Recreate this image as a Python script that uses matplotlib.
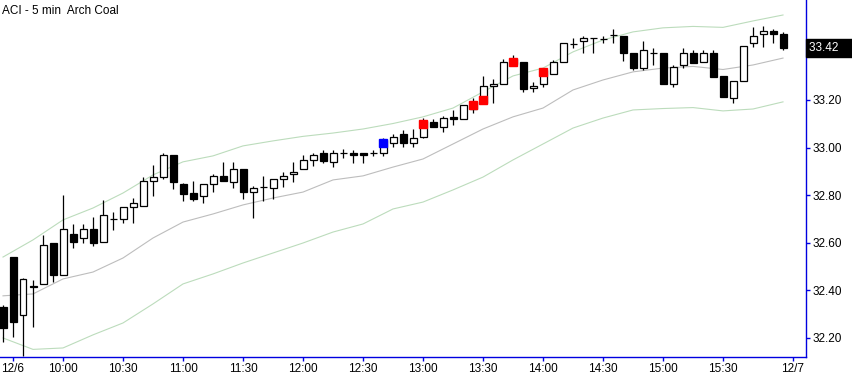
import numpy as np
import matplotlib
matplotlib.use("Agg")
import matplotlib.pyplot as plt

# 5 minute bars, 12/6 session
opens = [32.33, 32.54, 32.295, 32.418, 32.425, 32.60, 32.466, 32.637, 32.619, 32.658,
         32.605, 32.70, 32.699, 32.749, 32.756, 32.86, 32.878, 32.969, 32.847, 32.809,
         32.798, 32.846, 32.881, 32.857, 32.91, 32.815, 32.836, 32.829, 32.867, 32.888,
         32.909, 32.948, 32.979, 32.938, 32.976, 32.979, 32.977, 32.976, 32.976, 33.018,
         33.057, 33.018, 33.046, 33.106, 33.088, 33.128, 33.119, 33.162, 33.187, 33.259,
         33.266, 33.35, 33.358, 33.249, 33.266, 33.308, 33.358, 33.435, 33.448, 33.459,
         33.455, 33.473, 33.47, 33.399, 33.336, 33.396, 33.399, 33.266, 33.347, 33.396,
         33.359, 33.396, 33.301, 33.207, 33.28, 33.438, 33.477, 33.49, 33.477]
highs = [32.34, 32.54, 32.45, 32.445, 32.633, 32.60, 32.80, 32.679, 32.679, 32.707,
         32.78, 32.728, 32.75, 32.787, 32.878, 32.927, 32.979, 32.97, 32.85, 32.861,
         32.846, 32.889, 32.94, 32.94, 32.91, 32.839, 32.881, 32.867, 32.896, 32.938,
         32.969, 32.979, 32.99, 32.99, 32.993, 32.99, 32.977, 32.99, 33.039, 33.057,
         33.074, 33.077, 33.126, 33.119, 33.134, 33.158, 33.179, 33.207, 33.30, 33.287,
         33.371, 33.39, 33.358, 33.277, 33.336, 33.368, 33.44, 33.459, 33.469, 33.459,
         33.469, 33.497, 33.47, 33.399, 33.448, 33.42, 33.399, 33.347, 33.417, 33.41,
         33.41, 33.41, 33.301, 33.28, 33.427, 33.508, 33.511, 33.497, 33.487]
lows = [32.185, 32.205, 32.125, 32.245, 32.425, 32.437, 32.466, 32.577, 32.598, 32.588,
        32.605, 32.654, 32.684, 32.684, 32.756, 32.798, 32.867, 32.827, 32.776, 32.777,
        32.766, 32.815, 32.858, 32.829, 32.784, 32.705, 32.776, 32.784, 32.836, 32.857,
        32.909, 32.924, 32.937, 32.917, 32.958, 32.937, 32.937, 32.966, 32.966, 33.004,
        33.004, 33.004, 33.039, 33.088, 33.067, 33.096, 33.119, 33.147, 33.186, 33.186,
        33.266, 33.345, 33.235, 33.235, 33.256, 33.308, 33.358, 33.417, 33.396, 33.396,
        33.438, 33.438, 33.365, 33.326, 33.326, 33.345, 33.266, 33.256, 33.336, 33.357,
        33.359, 33.298, 33.214, 33.186, 33.28, 33.424, 33.424, 33.438, 33.41]
closes = [32.24, 32.265, 32.447, 32.415, 32.59, 32.466, 32.657, 32.605, 32.657, 32.598,
          32.717, 32.70, 32.749, 32.766, 32.86, 32.878, 32.969, 32.857, 32.806, 32.784,
          32.846, 32.881, 32.858, 32.909, 32.815, 32.829, 32.836, 32.867, 32.881, 32.896,
          32.948, 32.969, 32.945, 32.976, 32.976, 32.969, 32.968, 32.976, 33.032, 33.046,
          33.018, 33.039, 33.112, 33.088, 33.126, 33.119, 33.179, 33.19, 33.259, 33.267,
          33.361, 33.37, 33.246, 33.259, 33.326, 33.358, 33.438, 33.435, 33.459, 33.459,
          33.455, 33.473, 33.396, 33.336, 33.41, 33.396, 33.266, 33.337, 33.396, 33.357,
          33.396, 33.298, 33.214, 33.28, 33.427, 33.469, 33.49, 33.476, 33.42]

# channel lines, sampled every third bar
band_idx = [0, 3, 6, 9, 12, 15, 18, 21, 24, 27, 30, 33, 36, 39, 42, 45, 48, 51,
            54, 57, 60, 63, 66, 69, 72, 75, 78]
upper = [32.540, 32.612, 32.696, 32.746, 32.809, 32.885, 32.940, 32.965, 33.007,
         33.028, 33.047, 33.061, 33.078, 33.101, 33.129, 33.166, 33.234, 33.301,
         33.334, 33.402, 33.452, 33.486, 33.503, 33.509, 33.505, 33.532, 33.557]
middle = [32.377, 32.385, 32.448, 32.477, 32.536, 32.620, 32.687, 32.721, 32.759,
          32.788, 32.813, 32.864, 32.881, 32.918, 32.952, 33.015, 33.078, 33.129,
          33.166, 33.242, 33.284, 33.318, 33.334, 33.341, 33.328, 33.347, 33.376]
lower = [32.200, 32.152, 32.158, 32.213, 32.263, 32.343, 32.427, 32.469, 32.515,
         32.557, 32.599, 32.645, 32.679, 32.742, 32.771, 32.822, 32.876, 32.948,
         33.015, 33.082, 33.124, 33.158, 33.164, 33.168, 33.154, 33.162, 33.192]

# signal markers painted on some bars
sig_idx = [38, 42, 47, 48, 51, 54]
sig_price = [33.02, 33.10, 33.18, 33.20, 33.358, 33.316]
sig_color = ["#0000ff", "#ff0000", "#ff0000", "#ff0000", "#ff0000", "#ff0000"]

tick_pos = [1, 6, 12, 18, 24, 30, 36, 42, 48, 54, 60, 66, 72, 79]
tick_labels = ["12/6", "10:00", "10:30", "11:00", "11:30", "12:00", "12:30",
               "13:00", "13:30", "14:00", "14:30", "15:00", "15:30", "12/7"]
price_ticks = [32.2, 32.4, 32.6, 32.8, 33.0, 33.2]
last_price = "33.42"

plt.rcParams["font.family"] = ["Liberation Sans", "DejaVu Sans"]
axis_blue = "#0000e0"

fig = plt.figure(figsize=(8.53, 3.76), dpi=100)
# plot area: x 0..806 px, y 0..357 px (from the top)
ax = fig.add_axes([0.0, 19 / 376, 806 / 853, 357 / 376])

ax.plot(band_idx, upper, color="#bcdcbc", lw=0.8, zorder=1)
ax.plot(band_idx, lower, color="#bcdcbc", lw=0.8, zorder=1)
ax.plot(band_idx, middle, color="#bdbdbd", lw=0.8, zorder=1)

x = np.arange(len(opens))
o = np.array(opens)
c = np.array(closes)
ax.vlines(x, lows, highs, color="black", lw=0.9, zorder=2)
up = c >= o
ax.bar(x, np.abs(c - o), bottom=np.minimum(o, c), width=0.7,
       color=np.where(up, "white", "black"), edgecolor="black", lw=0.9, zorder=3)

for i, p, col in zip(sig_idx, sig_price, sig_color):
    ax.plot(i, p, marker="s", ms=5.2, color=col, mec=col, zorder=4)

ax.set_xlim(-0.3, 80.3)
ax.set_ylim(32.12, 33.62)

for s in ["left", "top"]:
    ax.spines[s].set_visible(False)
for s in ["right", "bottom"]:
    ax.spines[s].set_color(axis_blue)
    ax.spines[s].set_linewidth(1.0)

ax.yaxis.tick_right()
ax.set_yticks(price_ticks)
ax.set_yticklabels([f"{v:.2f}" for v in price_ticks])
ax.set_xticks(tick_pos)
ax.set_xticklabels(tick_labels)
ax.tick_params(axis="both", colors=axis_blue, labelcolor="black", length=3,
               width=1, labelsize=8.5, pad=1.5)

ax.text(1.004, float(last_price), last_price + "    ", transform=ax.get_yaxis_transform(),
        va="center", ha="left", color="white", fontsize=8.5,
        bbox=dict(boxstyle="square,pad=0.25", fc="black", ec="black"))

ax.text(0.003, 0.985, "ACI - 5 min  Arch Coal", transform=ax.transAxes,
        va="top", ha="left", fontsize=8.5, color="black")

fig.savefig("out.png", dpi=100)
